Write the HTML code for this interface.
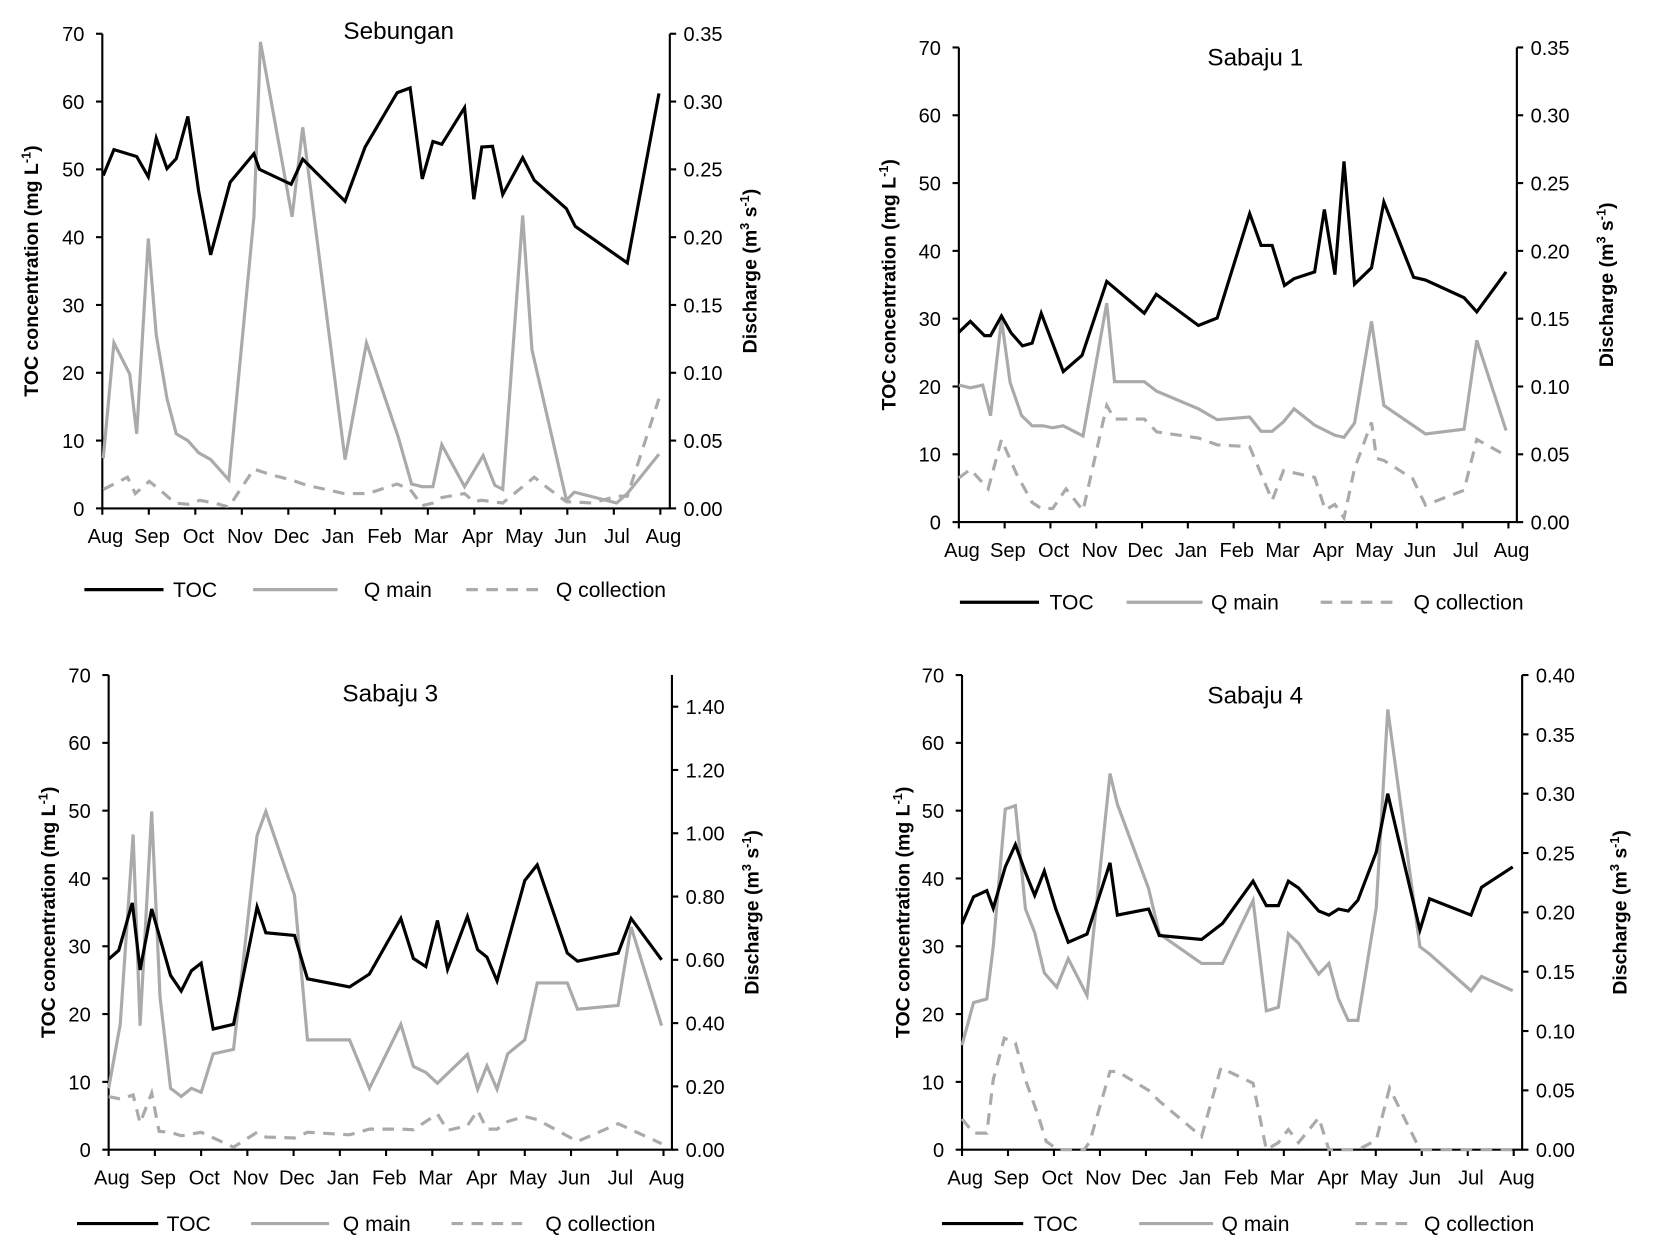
<!DOCTYPE html>
<html><head><meta charset="utf-8"><style>
html,body{margin:0;padding:0;background:#fff}
svg{display:block}
text{font-family:"Liberation Sans",Arial,sans-serif;fill:#000}
</style></head><body>
<svg id="fig" width="1654" height="1252" viewBox="0 0 1568 1187" preserveAspectRatio="none"></svg>
<script>
const monthLabels=["Aug","Sep","Oct","Nov","Dec","Jan","Feb","Mar","Apr","May","Jun","Jul","Aug"];
// Sebungan
const sebTocX=[0.02,0.25,0.74,0.99,1.16,1.39,1.59,1.84,2.07,2.33,2.75,3.26,3.38,4.06,4.31,5.22,5.65,6.34,6.62,6.88,7.11,7.3,7.79,7.99,8.16,8.39,8.61,9.04,9.29,9.98,10.17,11.29,11.97];
const sebToc=[49.1,52.9,51.9,48.9,54.6,50.1,51.6,57.8,46.8,37.4,48.1,52.3,50,47.8,51.5,45.3,53.3,61.3,62,48.6,54.1,53.7,59.1,45.6,53.3,53.4,46.3,51.7,48.4,44.2,41.6,36.2,61.2];
const sebQmainX=[0.02,0.25,0.59,0.74,0.99,1.16,1.39,1.59,1.84,2.07,2.33,2.72,3.26,3.4,4.08,4.31,5.22,5.68,6.36,6.65,6.88,7.11,7.3,7.79,8.19,8.44,8.61,9.04,9.24,9.98,10.15,11.06,11.29,11.97];
const sebQmain=[0.037,0.122,0.099,0.055,0.199,0.128,0.081,0.055,0.05,0.041,0.036,0.021,0.215,0.344,0.215,0.281,0.036,0.122,0.053,0.018,0.016,0.016,0.047,0.016,0.039,0.017,0.014,0.216,0.117,0.006,0.012,0.004,0.011,0.04];
const sebQcollX=[0.02,0.54,0.71,1.01,1.33,1.56,1.84,2.1,2.41,2.72,3.26,3.61,4.06,4.4,5.2,5.71,6.34,6.62,6.88,7.11,7.3,7.79,7.99,8.16,8.61,9.29,9.58,9.98,10.55,11.06,11.29,11.97];
const sebQcoll=[0.014,0.023,0.011,0.02,0.011,0.004,0.003,0.006,0.004,0.001,0.029,0.025,0.021,0.017,0.011,0.011,0.018,0.014,0.002,0.004,0.008,0.011,0.005,0.006,0.004,0.023,0.015,0.005,0.004,0.009,0.009,0.081];
// Sabaju 1
const s1TocX=[0,.25,.56,.69,.93,1.14,1.39,1.6,1.8,2.28,2.69,3.23,4.05,4.31,5.23,5.64,6.35,6.6,6.84,7.11,7.32,7.77,7.98,8.21,8.41,8.64,9.01,9.28,9.93,10.19,11.03,11.31,11.95];
const s1Toc=[28,29.6,27.5,27.5,30.4,27.9,26,26.4,30.8,22.2,24.6,35.5,30.8,33.6,29,30.1,45.5,40.8,40.8,34.9,35.9,36.9,46.1,36.5,53.2,35.1,37.5,47.2,36.1,35.7,33.1,31,36.9];
const s1QmainX=[0,.25,.52,.69,.93,1.12,1.37,1.6,1.84,2.05,2.28,2.71,3.23,3.4,4.05,4.32,5.23,5.64,6.35,6.6,6.84,7.09,7.32,7.77,8.21,8.41,8.64,9.01,9.28,10.19,11.03,11.31,11.95];
const s1Qmain=[0.101,0.099,0.101,0.0785,0.1495,0.103,0.0785,0.071,0.071,0.0695,0.071,0.0635,0.1615,0.1035,0.1035,0.0965,0.0835,0.0755,0.0775,0.067,0.067,0.074,0.0835,0.0715,0.064,0.0625,0.073,0.148,0.086,0.065,0.0685,0.134,0.0675];
const s1QcollX=[0,.25,.64,.93,1.26,1.6,1.8,2.05,2.34,2.71,3.23,3.4,4.05,4.32,5.23,5.64,6.35,6.84,7.09,7.77,8.0,8.21,8.41,8.64,9.01,9.12,9.28,9.91,10.19,11.03,11.31,11.95];
const s1Qcoll=[0.0325,0.039,0.0245,0.061,0.0355,0.0145,0.01,0.01,0.0245,0.0085,0.086,0.076,0.076,0.0665,0.062,0.057,0.0555,0.016,0.038,0.033,0.009,0.013,0.003,0.0395,0.0735,0.047,0.0455,0.032,0.0125,0.0235,0.061,0.049];
// Sabaju 3
const s3TocX=[0,.22,.51,.68,.93,1.34,1.57,1.79,2,2.26,2.7,3.21,3.4,4.02,4.3,5.21,5.64,6.32,6.59,6.86,7.11,7.33,7.76,7.98,8.18,8.4,9,9.27,9.92,10.14,11.02,11.3,11.96];
const s3Toc=[28.1,29.4,36.4,26.5,35.5,25.7,23.4,26.4,27.5,17.8,18.5,35.8,32,31.6,25.2,24,25.9,34.1,28.2,27,33.8,26.6,34.4,29.5,28.4,24.9,39.7,42,29,27.8,29,34.1,28];
const s3QmainX=[0,.25,.53,.68,.93,1.11,1.34,1.57,1.79,2,2.26,2.7,3.21,3.4,4.02,4.3,5.21,5.64,6.32,6.59,6.86,7.11,7.76,7.98,8.18,8.4,8.63,9,9.27,9.92,10.14,11.02,11.3,11.96];
const s3Qmain=[0.194,0.397,0.996,0.392,1.069,0.483,0.194,0.168,0.194,0.181,0.303,0.317,0.993,1.069,0.804,0.347,0.347,0.194,0.396,0.263,0.244,0.21,0.301,0.191,0.265,0.191,0.303,0.347,0.527,0.527,0.444,0.456,0.704,0.392];
const s3QcollX=[0,.26,.53,.68,.93,1.09,1.34,1.57,2,2.7,3.21,3.4,4.02,4.3,5.21,5.64,6.32,6.59,7.11,7.33,7.76,7.98,8.18,8.4,8.63,9,9.27,10.14,11.02,11.96];
const s3Qcoll=[0.168,0.16,0.173,0.084,0.179,0.058,0.055,0.044,0.055,0.008,0.055,0.04,0.037,0.055,0.047,0.065,0.065,0.063,0.113,0.061,0.076,0.124,0.065,0.065,0.089,0.105,0.095,0.026,0.082,0.019];
// Sabaju 4
const s4TocX=[0,.25,.54,.68,.94,1.16,1.39,1.58,1.79,2.04,2.31,2.72,3.22,3.38,4.06,4.29,5.21,5.67,6.33,6.62,6.88,7.1,7.32,7.76,7.98,8.19,8.4,8.61,9.01,9.26,9.96,10.17,11.07,11.3,11.98];
const s4Toc=[33.3,37.3,38.2,35.6,41.7,45,40.7,37.5,41.1,35.5,30.6,31.8,42.3,34.6,35.5,31.6,31,33.4,39.6,36,36,39.6,38.6,35.2,34.6,35.5,35.2,36.8,43.9,52.5,32.4,37,34.6,38.7,41.7];
const s4QmainX=[0,.25,.54,.68,.94,1.16,1.38,1.58,1.79,2.06,2.31,2.72,3.22,3.38,4.06,4.29,5.21,5.67,6.33,6.62,6.88,7.1,7.32,7.76,7.98,8.19,8.4,8.61,9.01,9.26,9.96,10.17,11.07,11.3,11.98];
const s4Qmain=[0.088,0.124,0.127,0.171,0.287,0.29,0.203,0.183,0.149,0.137,0.161,0.13,0.317,0.291,0.22,0.182,0.157,0.157,0.21,0.117,0.12,0.182,0.174,0.148,0.157,0.127,0.109,0.109,0.204,0.371,0.171,0.165,0.134,0.146,0.134];
const s4QcollX=[0,.25,.54,.68,.92,1.16,1.38,1.67,1.83,2.08,2.66,2.78,3.22,3.38,4.06,4.29,5.21,5.63,6.33,6.62,6.88,7.1,7.32,7.76,7.98,8.61,9.01,9.3,9.96,11.98];
const s4Qcoll=[0.026,0.014,0.014,0.059,0.094,0.09,0.059,0.027,0.007,0,0,0.007,0.066,0.066,0.05,0.041,0.011,0.069,0.056,0,0.006,0.017,0.006,0.027,0,0,0.008,0.052,0,0];

const NS="http://www.w3.org/2000/svg";
const svg=document.getElementById('fig');
function el(tag,attrs,parent,txt){const e=document.createElementNS(NS,tag);for(const k in attrs)e.setAttribute(k,attrs[k]);if(txt!==undefined)e.textContent=txt;(parent||svg).appendChild(e);return e;}

function chart(c){
  const g=el('g',{});
  
  
  const xs=m=>c.x0+(c.x1-c.x0)*m/12;
  const yl=v=>c.yb-(c.yb-c.yt)*v/70;
  const yr=v=>c.yb-(c.yb-c.yt)*v/c.rMax;
  const ax=el('path',{d:`M${c.x0},${c.yt}V${c.yb}H${c.xr}V${c.yt}`,stroke:'#000','stroke-width':2,fill:'none'},g);
  
  
  for(let v=0;v<=70;v+=10){
    el('line',{x1:c.x0-6,x2:c.x0,y1:yl(v),y2:yl(v),stroke:'#000','stroke-width':2},g);
    const t=el('text',{x:c.x0-17,y:yl(v)+7,'text-anchor':'end','font-size':19},g,String(v));
    
    
  }
  for(let i=0;i<c.rTicks.length;i++){
    const v=c.rTicks[i];
    el('line',{x1:c.xr,x2:c.xr+6,y1:yr(v),y2:yr(v),stroke:'#000','stroke-width':2},g);
    const t=el('text',{x:c.xr+13,y:yr(v)+7,'font-size':19},g,v.toFixed(2));
    
    
  }
  for(let i=0;i<monthLabels.length;i++){
    el('line',{x1:xs(i),x2:xs(i),y1:c.yb,y2:c.yb+6,stroke:'#000','stroke-width':2},g);
    const t=el('text',{x:xs(i)+3,y:c.yb+33,'text-anchor':'middle','font-size':19},g,monthLabels[i]);
    
    
  }
  const tt=el('text',{x:c.tx,y:c.ty,'text-anchor':'middle','font-size':23},g,c.name);
  
  
  const ym=(c.yt+c.yb)/2;
  const lt=el('text',{transform:`translate(${c.lx},${ym}) rotate(-90)`,'text-anchor':'middle','font-size':18.5,'font-weight':'bold'},g);
  
  
  lt.innerHTML='TOC concentration (mg L<tspan font-size="12" dy="-7">-1</tspan><tspan dy="7">)</tspan>';
  const rt=el('text',{transform:`translate(${c.rx},${ym}) rotate(-90)`,'text-anchor':'middle','font-size':18.5,'font-weight':'bold'},g);
  
  
  rt.innerHTML='Discharge (m<tspan font-size="12" dy="-7">3</tspan><tspan dy="7"> s</tspan><tspan font-size="12" dy="-7">-1</tspan><tspan dy="7">)</tspan>';
  const line=(X,Y,f,stroke,dash,nm)=>{
    const d=X.map((m,i)=>(i?'L':'M')+xs(m).toFixed(1)+','+f(Y[i]).toFixed(1)).join('');
    const p=el('path',{d:d,stroke:stroke,'stroke-width':3,fill:'none'},g);
    if(dash)p.setAttribute('stroke-dasharray',dash);
    
    
  };
  line(c.qcX,c.qc,yr,'#aaaaaa','11,8','q-collection-line');
  line(c.qmX,c.qm,yr,'#aaaaaa',null,'q-main-line');
  line(c.tocX,c.toc,yl,'#000',null,'toc-line');
  const L=c.leg, y=c.legY;
  const items=[[L[0],L[1],L[2],'#000',null,'TOC'],[L[3],L[4],L[5],'#aaaaaa',null,'Q main'],[L[6],L[7],L[8],'#aaaaaa','11,8','Q collection']];
  items.forEach(it=>{
    const lg=el('g',{},g);
    
    
    const ln=el('line',{x1:it[0],x2:it[1],y1:y,y2:y,stroke:it[3],'stroke-width':3},lg);
    if(it[4])ln.setAttribute('stroke-dasharray',it[4]);
    el('text',{x:it[2],y:y+7,'font-size':20},lg,it[5]);
  });
}
chart({name:'Sebungan',x0:97,xr:635,x1:626,yt:32,yb:482,rMax:0.35,rTicks:[0,.05,.1,.15,.2,.25,.3,.35],tx:378,ty:37,lx:36,rx:717,
  tocX:sebTocX,toc:sebToc,qmX:sebQmainX,qm:sebQmain,qcX:sebQcollX,qc:sebQcoll,legY:559,leg:[80,155,164,240,320,345,442,510,527]});
chart({name:'Sabaju 1',x0:909,xr:1438,x1:1430,yt:45,yb:495,rMax:0.35,rTicks:[0,.05,.1,.15,.2,.25,.3,.35],tx:1190,ty:62,lx:849,rx:1529,
  tocX:s1TocX,toc:s1Toc,qmX:s1QmainX,qm:s1Qmain,qcX:s1QcollX,qc:s1Qcoll,legY:571,leg:[910,985,995,1068,1140,1148,1252,1320,1340]});
chart({name:'Sabaju 3',x0:103,xr:637,x1:629,yt:640,yb:1090,rMax:1.5,rTicks:[0,.2,.4,.6,.8,1,1.2,1.4],tx:370,ty:665,lx:52,rx:719,
  tocX:s3TocX,toc:s3Toc,qmX:s3QmainX,qm:s3Qmain,qcX:s3QcollX,qc:s3Qcoll,legY:1160,leg:[73,150,158,238,312,325,428,495,517]});
chart({name:'Sabaju 4',x0:912,xr:1443,x1:1435,yt:640,yb:1090,rMax:0.4,rTicks:[0,.05,.1,.15,.2,.25,.3,.35,.4],tx:1190,ty:667,lx:862,rx:1542,
  tocX:s4TocX,toc:s4Toc,qmX:s4QmainX,qm:s4Qmain,qcX:s4QcollX,qc:s4Qcoll,legY:1160,leg:[893,970,980,1080,1150,1158,1285,1340,1350]});
</script>
</body></html>
